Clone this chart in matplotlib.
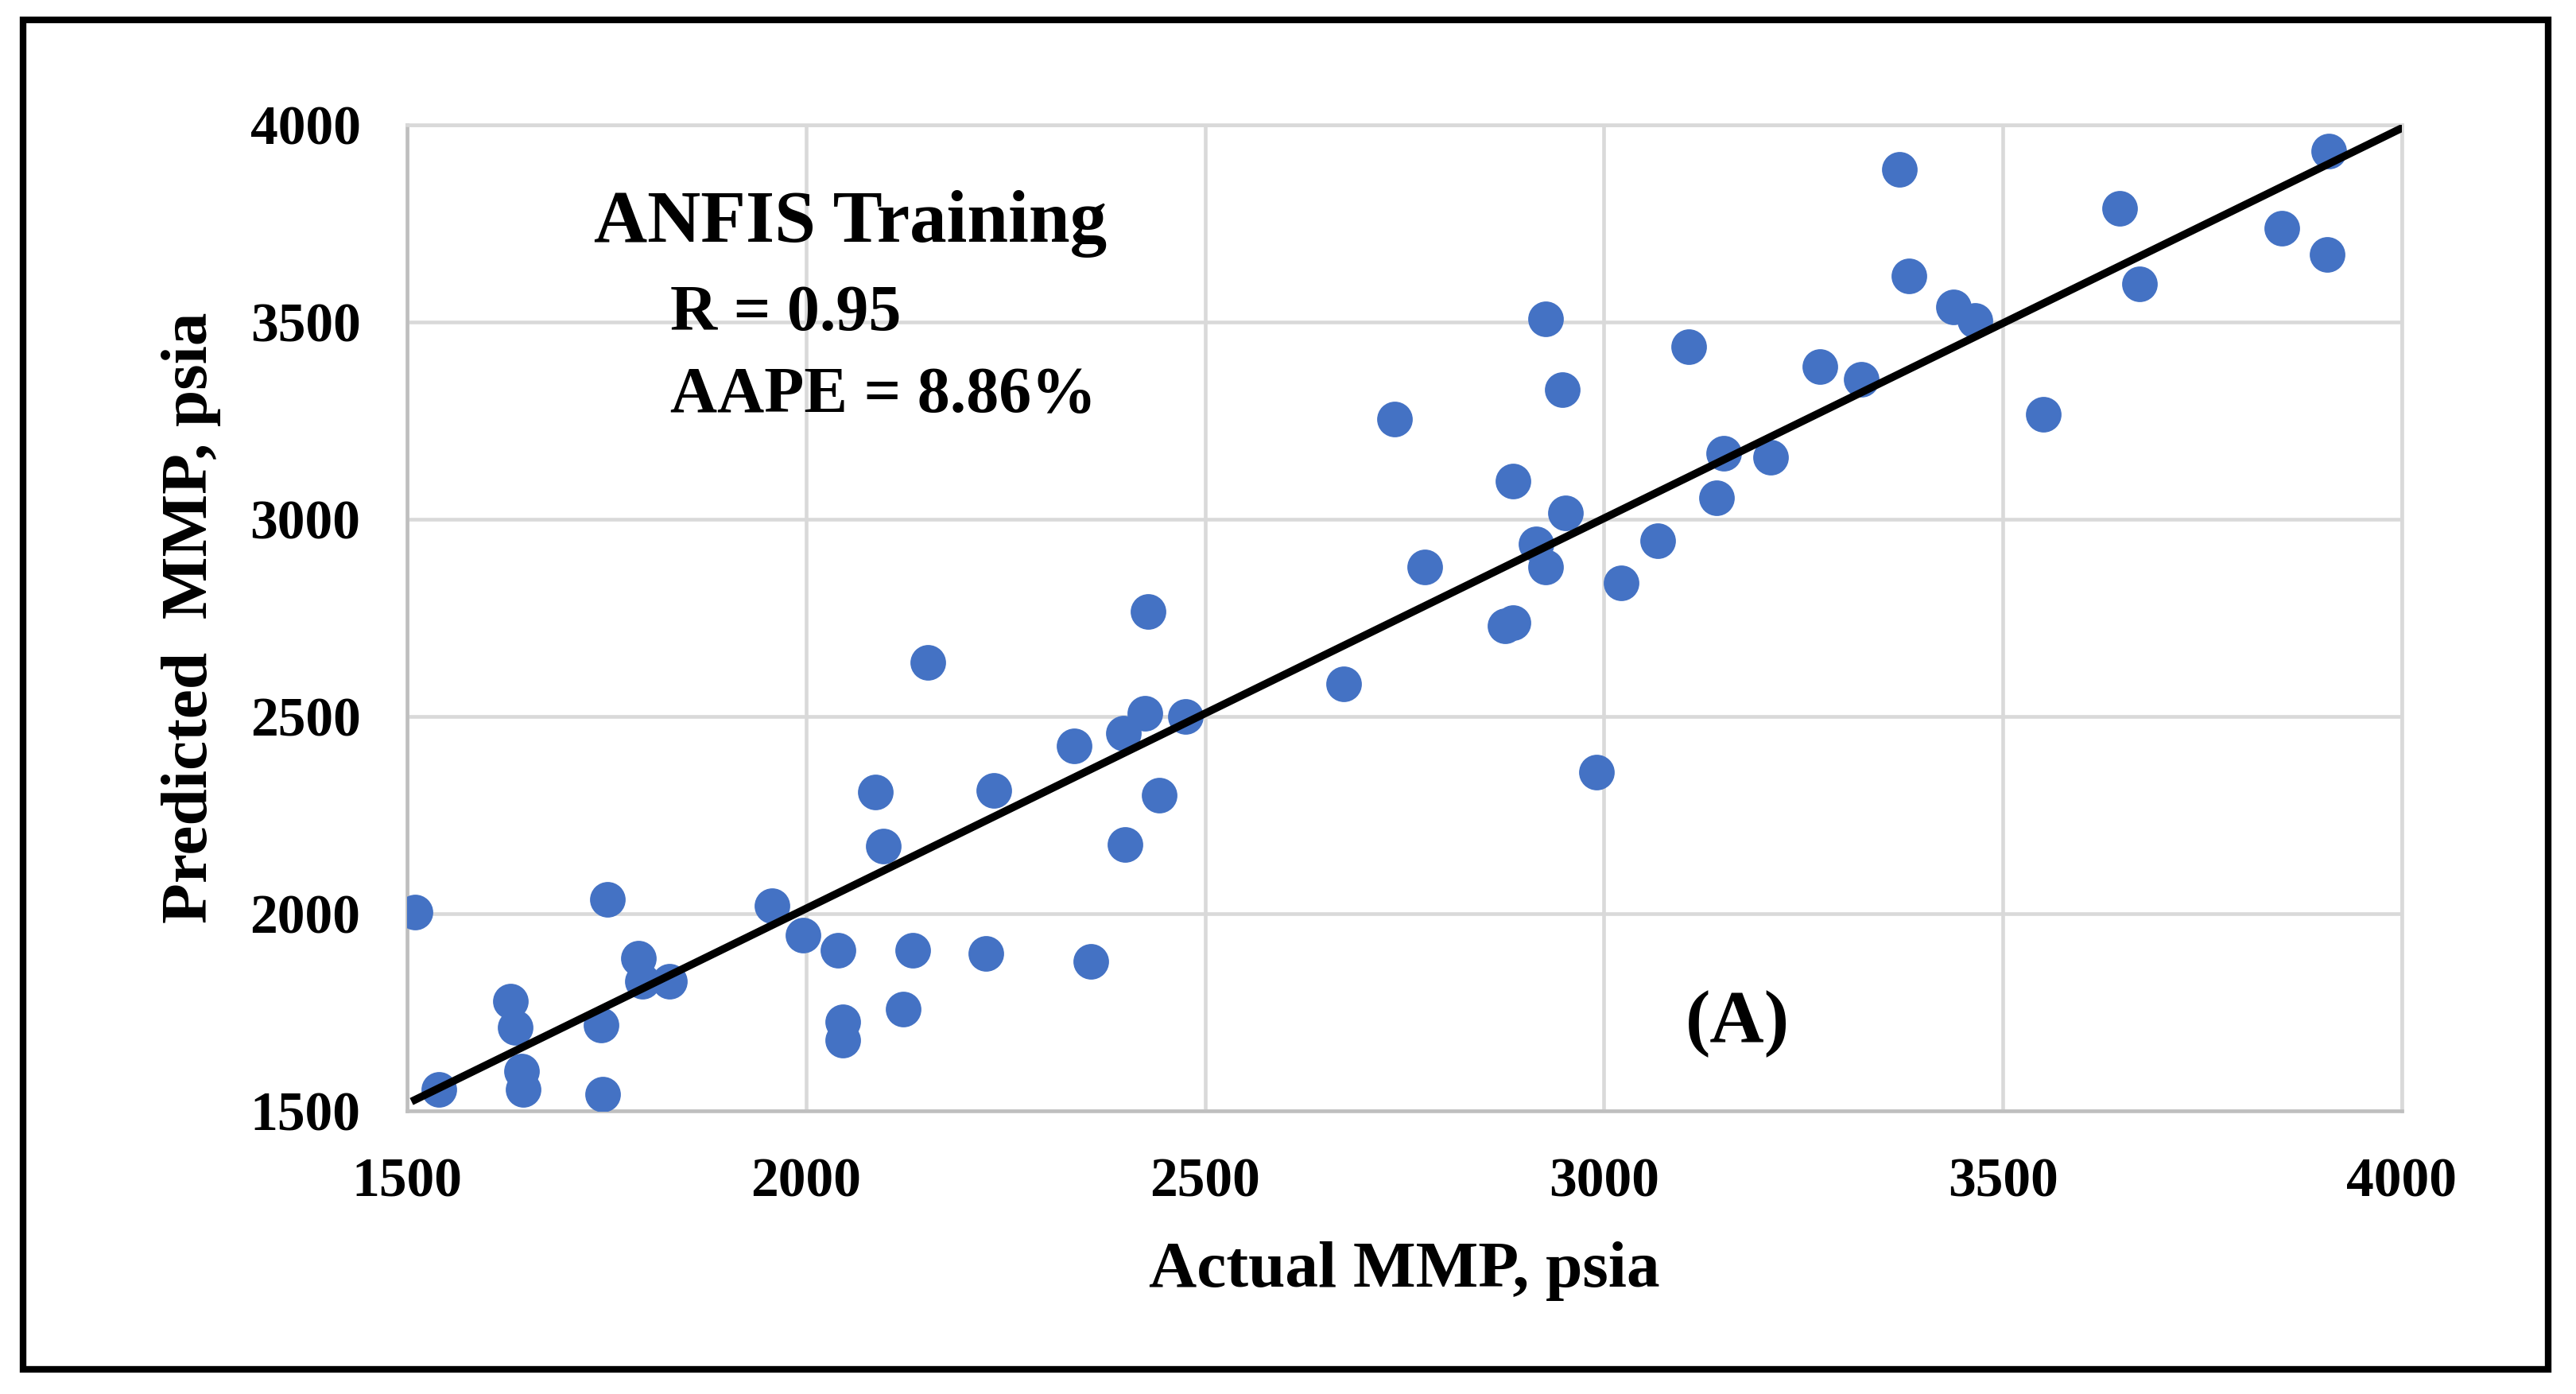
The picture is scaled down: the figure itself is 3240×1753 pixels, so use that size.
import matplotlib
matplotlib.use("Agg")
from matplotlib import pyplot as plt
from matplotlib.patches import Rectangle

# actual vs predicted MMP (psia)
actual_mmp = [1510, 1540, 1630, 1636, 1644, 1646, 1745, 1743, 1751, 1790,
              1795, 1829, 1957, 1996, 2040, 2046, 2046, 2087, 2097, 2122,
              2134, 2153, 2225, 2235, 2336, 2357, 2398, 2400, 2425, 2429,
              2443, 2476, 2674, 2738, 2775, 2876, 2886, 2886, 2915, 2927,
              2927, 2948, 2952, 2991, 3022, 3067, 3106, 3141, 3150, 3209,
              3271, 3322, 3370, 3382, 3438, 3465, 3551, 3646, 3671, 3850,
              3906, 3908]
predicted_mmp = [2004, 1554, 1779, 1712, 1600, 1554, 1542, 1717, 2037, 1887,
                 1829, 1829, 2021, 1946, 1908, 1725, 1679, 2308, 2171, 1758,
                 1908, 2637, 1900, 2313, 2425, 1879, 2458, 2175, 2508, 2767,
                 2300, 2500, 2583, 3254, 2879, 2729, 2738, 3096, 2938, 2879,
                 3508, 3329, 3017, 2358, 2838, 2946, 3438, 3054, 3167, 3158,
                 3388, 3354, 3888, 3617, 3538, 3504, 3267, 3788, 3596, 3738,
                 3671, 3933]

fit_x = [1510, 4000]
fit_y = [1528, 3992]

x_ticks = [1500, 2000, 2500, 3000, 3500, 4000]
y_ticks = [1500, 2000, 2500, 3000, 3500, 4000]

plt.rcParams['font.family'] = ['Liberation Serif', 'DejaVu Serif']
plt.rcParams['font.weight'] = 'bold'

fig = plt.figure(figsize=(32.4, 17.53), dpi=100)
ax = fig.add_axes([0.158, 0.2031, 0.9324 - 0.158, 0.9104 - 0.2031])

ax.scatter(actual_mmp, predicted_mmp, s=1040, color='#4472C4', zorder=3, linewidths=0)
ax.plot(fit_x, fit_y, color='black', linewidth=7, zorder=4)

ax.set_xlim(1500, 4000)
ax.set_ylim(1500, 4000)
ax.set_xticks(x_ticks)
ax.set_yticks(y_ticks)
ax.grid(True, color='#d9d9d9', linewidth=3.3, zorder=0)
ax.set_axisbelow(True)
ax.tick_params(length=0, labelsize=50, pad=42)
for lab in ax.get_xticklabels() + ax.get_yticklabels():
    lab.set_fontweight('bold')

for side in ['top', 'right']:
    ax.spines[side].set_color('#d9d9d9')
    ax.spines[side].set_linewidth(3.3)
for side in ['left', 'bottom']:
    ax.spines[side].set_color('#bfbfbf')
    ax.spines[side].set_linewidth(3.3)

ax.set_xlabel('Actual MMP, psia', fontsize=60, fontweight='bold', labelpad=30)
ax.set_ylabel('Predicted  MMP, psia', fontsize=60, fontweight='bold', labelpad=26)

ax.text(0.0935, 0.900, 'ANFIS Training', transform=ax.transAxes, fontsize=67,
        fontweight='bold', va='center', ha='left')
ax.text(0.132, 0.808, 'R = 0.95', transform=ax.transAxes, fontsize=59,
        fontweight='bold', va='center', ha='left')
ax.text(0.132, 0.725, 'AAPE = 8.86%', transform=ax.transAxes, fontsize=59,
        fontweight='bold', va='center', ha='left')
ax.text(0.641, 0.088, '(A)', transform=ax.transAxes, fontsize=68,
        fontweight='bold', va='center', ha='left')

# black frame round the whole chart
fig.patches.append(Rectangle((29 / 3240, 1 - 1722 / 1753), (3205 - 29) / 3240,
                             (1722 - 25) / 1753, transform=fig.transFigure,
                             fill=False, edgecolor='black', linewidth=6))

fig.savefig('out.png', dpi=100, facecolor='white')
